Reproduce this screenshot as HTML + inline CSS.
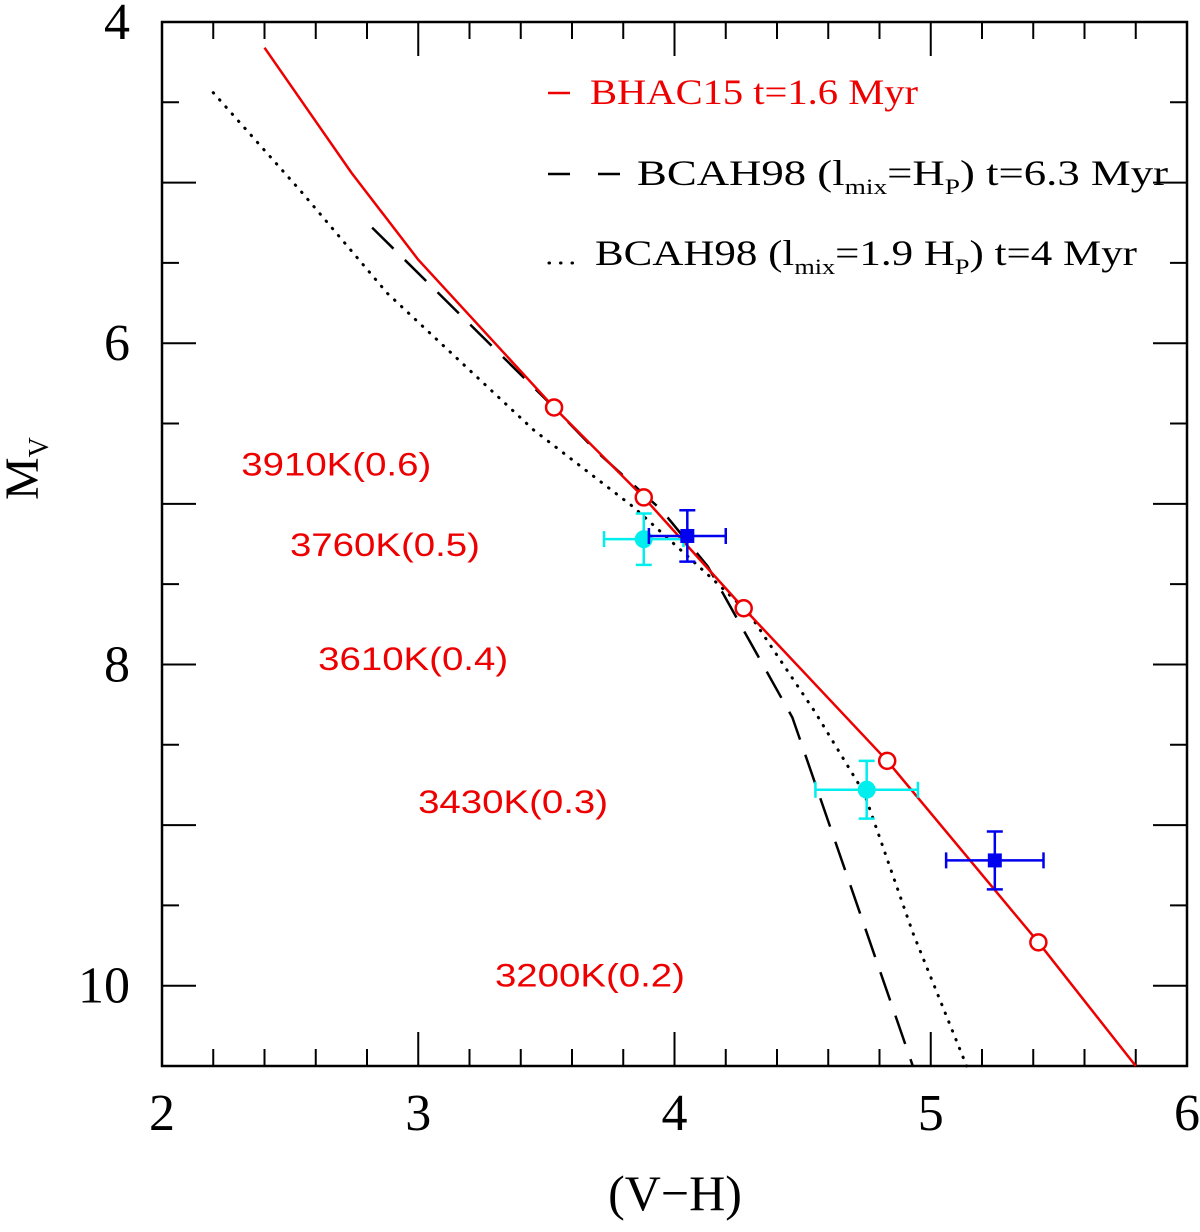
<!DOCTYPE html>
<html><head><meta charset="utf-8"><style>
body{margin:0;background:#fff}
svg text{font-family:"Liberation Sans",sans-serif}
</style></head><body>
<svg id="chart" width="1200" height="1227" xmlns="http://www.w3.org/2000/svg">
<g id="g"></g>
</svg>
<script>
const xTicksMajor=[2,3,4,5,6];
const yTicksLabels=[4,6,8,10];
const bhacX=[2.4,2.74,3.0,3.53,3.88,4.27,4.83,5.42,5.8];
const bhacY=[4.16,4.94,5.48,6.4,6.96,7.65,8.6,9.73,10.5];
const circX=[3.53,3.88,4.27,4.83,5.42];
const circY=[6.4,6.96,7.65,8.6,9.73];
const dashX=[2.82,3.53,3.7,3.95,4.13,4.19,4.46,4.93];
const dashY=[5.28,6.4,6.68,7.04,7.39,7.56,8.33,10.5];
const dotX=[2.2,2.54,2.88,3.45,3.84,4.15,4.29,4.55,4.74,4.93,5.14];
const dotY=[4.44,5.05,5.69,6.54,7.02,7.47,7.68,8.3,8.8,9.67,10.5];
const cyanX=[3.88,4.75];const cyanY=[7.22,8.78];const cyanXe=[0.155,0.2];const cyanYe=[0.16,0.18];
const blueX=[4.05,5.25];const blueY=[7.2,9.22];const blueXe=[0.15,0.19];const blueYe=[0.16,0.18];
const tempLabels=["3910K(0.6)","3760K(0.5)","3610K(0.4)","3430K(0.3)","3200K(0.2)"];
const tempLX=[2.68,2.87,2.98,3.37,3.67];const tempLY=[6.75,7.25,7.96,8.85,9.93];

const L=162,R=1187,T=22,B=1066;
const sx=v=>L+(v-2)/4*(R-L);
const sy=v=>T+(v-4)/6.5*(B-T);
const g=document.getElementById('g');
const NS='http://www.w3.org/2000/svg';
const SERIF='font-family:"Liberation Serif",serif';
function el(t,a,txt){const e=document.createElementNS(NS,t);for(const k in a)e.setAttribute(k,a[k]);if(txt!=null)e.textContent=txt;g.appendChild(e);return e;}
let e;
e=el('rect',{x:L,y:T,width:R-L,height:B-T,fill:'none',stroke:'#000','stroke-width':2.5});


for(let i=0;i<=20;i++){const v=2+i*0.2;const x=sx(v);const len=(i%5==0)?34:17;
 e=el('line',{x1:x,y1:B,x2:x,y2:B-len,stroke:'#000','stroke-width':2});
 
 
 e=el('line',{x1:x,y1:T,x2:x,y2:T+len,stroke:'#000','stroke-width':2});
 
 }
for(let i=0;i<=13;i++){const v=4+i*0.5;const y=sy(v);const len=(i%2==0)?34:17;
 e=el('line',{x1:L,y1:y,x2:L+len,y2:y,stroke:'#000','stroke-width':2});
 
 
 e=el('line',{x1:R,y1:y,x2:R-len,y2:y,stroke:'#000','stroke-width':2});
 
 }
xTicksMajor.forEach(v=>{e=el('text',{x:sx(v),y:1130,'text-anchor':'middle','font-size':52,style:SERIF},v);
 
 });
yTicksLabels.forEach(v=>{e=el('text',{x:130,y:sy(v)+17,'text-anchor':'end','font-size':52,style:SERIF},v);
 
 });
e=el('text',{x:675,y:1210,'text-anchor':'middle','font-size':50,style:SERIF},'(V\u2212H)');


e=el('text',{x:0,y:0,'font-size':48,transform:'translate(38,500) rotate(-90)',style:SERIF});


e.innerHTML='M<tspan font-size="28" dy="10">V</tspan>';
function pts(X,Y){return X.map((x,i)=>sx(x)+','+sy(Y[i])).join(' ');}
e=el('polyline',{points:pts(dotX,dotY),fill:'none',stroke:'#000','stroke-width':3,'stroke-dasharray':'0.5 9','stroke-linecap':'round'});


e=el('polyline',{points:pts(dashX,dashY),fill:'none',stroke:'#000','stroke-width':2.5,'stroke-dasharray':'30 16'});


e=el('polyline',{points:pts(bhacX,bhacY),fill:'none',stroke:'#e00','stroke-width':2.5,'stroke-linejoin':'round'});


circX.forEach((x,i)=>{e=el('circle',{cx:sx(x),cy:sy(circY[i]),r:8,fill:'#fff',stroke:'#e00','stroke-width':2.5});
 
 });
function errPt(X,Y,XE,YE,col,shape,name){X.forEach((x,i)=>{const cx=sx(x),cy=sy(Y[i]);
 const x1=sx(x-XE[i]),x2=sx(x+XE[i]),y1=sy(Y[i]-YE[i]),y2=sy(Y[i]+YE[i]);
 e=el('path',{d:`M${x1},${cy}H${x2}M${cx},${y1}V${y2}M${x1},${cy-8}V${cy+8}M${x2},${cy-8}V${cy+8}M${cx-8},${y1}H${cx+8}M${cx-8},${y2}H${cx+8}`,stroke:col,'stroke-width':2.5,fill:'none'});
 
 
 if(shape=='c'){e=el('circle',{cx:cx,cy:cy,r:9,fill:col});}else{e=el('rect',{x:cx-7,y:cy-7,width:14,height:14,fill:col});}
 
 });}
errPt(cyanX,cyanY,cyanXe,cyanYe,'#0ee','c','cyan-star');
errPt(blueX,blueY,blueXe,blueYe,'#00e','s','blue-star');
tempLabels.forEach((t,i)=>{e=el('text',{x:sx(tempLX[i]),y:sy(tempLY[i])+12,'text-anchor':'middle','font-size':32,fill:'#e00',textLength:190,lengthAdjust:'spacingAndGlyphs'},t);
 
 });
e=el('line',{x1:548,y1:93,x2:570,y2:93,stroke:'#e00','stroke-width':2.5});


e=el('text',{x:590,y:104,'font-size':36,fill:'#e00',style:SERIF,textLength:328,lengthAdjust:'spacingAndGlyphs'},'BHAC15 t=1.6 Myr');


e=el('line',{x1:548,y1:174,x2:620,y2:174,stroke:'#000','stroke-width':2.5,'stroke-dasharray':'22 28'});


e=el('text',{x:637,y:185,'font-size':36,style:SERIF,textLength:531,lengthAdjust:'spacingAndGlyphs'});


e.innerHTML='BCAH98 (l<tspan font-size="22" dy="9">mix</tspan><tspan dy="-9">=H</tspan><tspan font-size="22" dy="9">P</tspan><tspan dy="-9">) t=6.3 Myr</tspan>';
e=el('line',{x1:549,y1:263,x2:578,y2:263,stroke:'#000','stroke-width':3,'stroke-dasharray':'0.5 11','stroke-linecap':'round'});


e=el('text',{x:595,y:265,'font-size':36,style:SERIF,textLength:542,lengthAdjust:'spacingAndGlyphs'});


e.innerHTML='BCAH98 (l<tspan font-size="22" dy="9">mix</tspan><tspan dy="-9">=1.9 H</tspan><tspan font-size="22" dy="9">P</tspan><tspan dy="-9">) t=4 Myr</tspan>';
</script>
</body></html>
